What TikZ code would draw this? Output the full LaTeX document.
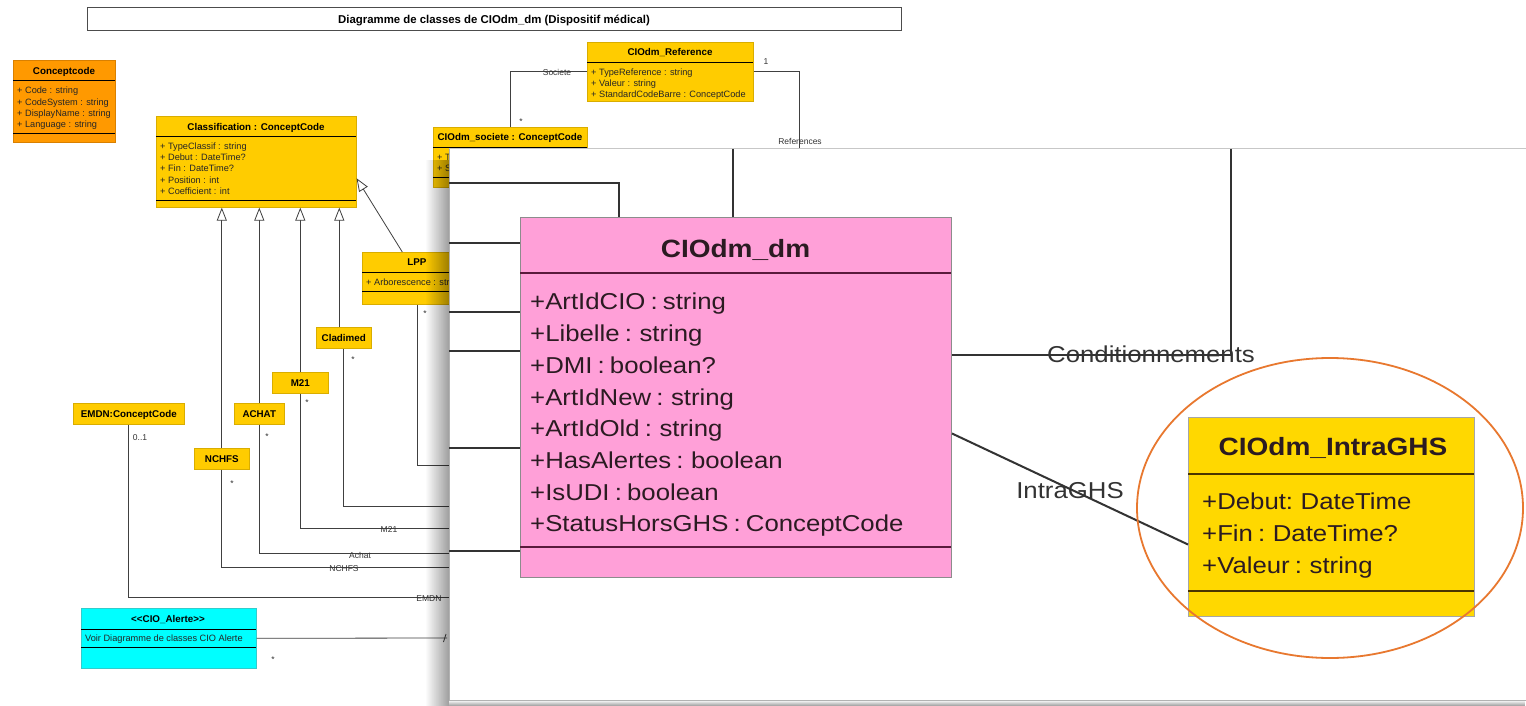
\documentclass[tikz,border=0pt]{standalone}
\usepackage{fontspec}
\setmainfont{Liberation Sans}
\newfontfamily\widefont[FakeStretch=1.12,WordSpace=0.72]{Liberation Sans}
\usetikzlibrary{arrows.meta,fadings,shapes.geometric}
\definecolor{ucy}{HTML}{FFCC00}
\definecolor{ucyb}{HTML}{D9AD00}
\definecolor{uco}{HTML}{FF9900}
\definecolor{ucob}{HTML}{D98000}
\definecolor{ucc}{HTML}{00FFFF}
\definecolor{uccb}{HTML}{33CCCC}
\definecolor{pinkf}{HTML}{FFA0D8}
\definecolor{pinkl}{HTML}{5A1A3C}
\definecolor{goldf}{HTML}{FFD800}
\definecolor{goldl}{HTML}{4A3500}
\definecolor{ringc}{HTML}{E8782F}
\definecolor{txt}{HTML}{2B1B22}
\tikzset{
  cbox/.style={draw=#1, line width=0.6pt, inner sep=0pt, anchor=north west},
  sepl/.style={draw=black, line width=0.7pt},
  attr/.style={font=\fontsize{9.2}{10}\selectfont, inner sep=0pt, anchor=west, text=black!85, text height=6.6pt, text depth=0pt},
  hdr/.style={font=\bfseries\fontsize{9.8}{11}\selectfont, inner sep=0pt, text=black, text height=7pt, text depth=0pt},
  mult/.style={font=\fontsize{8.5}{9}\selectfont, inner sep=0pt, text=black!80, text height=6.1pt, text depth=0pt},
  bgl/.style={draw=black!75, line width=0.8pt},
  gen/.style={bgl, -{Triangle[open, fill=white, length=13pt, width=10pt]}},
  ovl/.style={draw=black!80, line width=2.4pt},
  ovl2/.style={draw=black!80, line width=2pt},
  ovt/.style={font=\widefont\fontsize{23}{26}\selectfont, inner sep=0pt, text=txt, text height=16.5pt, text depth=0pt},
  ovh/.style={font=\widefont\bfseries\fontsize{25}{28}\selectfont, inner sep=0pt, text=txt, text height=18pt, text depth=0pt},
}
\begin{document}
\begin{tikzpicture}[x=1pt,y=-1pt]
\useasboundingbox (0,0) rectangle (1526,706);
\fill[white] (0,0) rectangle (1526,706);

% ---------- background diagram ----------
\node[cbox=black!70, minimum width=814pt, minimum height=23pt] (title) at (87,7) {};
\node[font=\bfseries\fontsize{11.4}{13}\selectfont, inner sep=0pt, text height=8.2pt, text depth=0pt] (titletxt) at (494,19) {Diagramme de classes de CIOdm\_dm (Dispositif médical)};

% Conceptcode
\node[cbox=ucob, fill=uco, minimum width=102pt, minimum height=82pt] (cc) at (13,60) {};
\node[hdr] (cch) at (64,71) {Conceptcode};
\draw[sepl] (13,80) -- (115,80);
\draw[sepl] (13,133) -- (115,133);
\node[attr] (cc1) at (17,90.5) {+ Code : string};
\node[attr] (cc2) at (17,101.8) {+ CodeSystem : string};
\node[attr] (cc3) at (17,113.1) {+ DisplayName : string};
\node[attr] (cc4) at (17,124.4) {+ Language : string};

% Classification
\node[cbox=ucyb, fill=ucy, minimum width=200pt, minimum height=91pt] (cls) at (156,116) {};
\node[hdr] (clsh) at (256,127) {Classification : ConceptCode};
\draw[sepl] (156,136) -- (356,136);
\draw[sepl] (156,200) -- (356,200);
\node[attr] (cl1) at (160,146) {+ TypeClassif : string};
\node[attr] (cl2) at (160,157.3) {+ Debut : DateTime?};
\node[attr] (cl3) at (160,168.6) {+ Fin : DateTime?};
\node[attr] (cl4) at (160,180) {+ Position : int};
\node[attr] (cl5) at (160,191.3) {+ Coefficient : int};

% CIOdm_Reference
\node[cbox=ucyb, fill=ucy, minimum width=166pt, minimum height=59pt] (ref) at (587,42) {};
\node[hdr] (refh) at (670,52) {CIOdm\_Reference};
\draw[sepl] (587,62) -- (753,62);
\node[attr] (rf1) at (591,72) {+ TypeReference : string};
\node[attr] (rf2) at (591,83) {+ Valeur : string};
\node[attr] (rf3) at (591,94) {+ StandardCodeBarre : ConceptCode};

% CIOdm_societe
\node[cbox=ucyb, fill=ucy, minimum width=154pt, minimum height=60pt] (soc) at (433,127) {};
\node[hdr] (soch) at (510,137) {CIOdm\_societe : ConceptCode};
\draw[sepl] (433,147) -- (587,147);
\draw[sepl] (433,177) -- (587,177);
\node[attr] (so1) at (437,157.5) {+ T};
\node[attr] (so2) at (437,168.5) {+ S};

% LPP
\node[cbox=ucyb, fill=ucy, minimum width=110pt, minimum height=52pt] (lpp) at (362,252) {};
\node[hdr] (lpph) at (417,262) {LPP};
\draw[sepl] (362,272) -- (472,272);
\draw[sepl] (362,291) -- (472,291);
\node[attr] (lp1) at (366,282) {+ Arborescence : str};

% small classes
\node[cbox=ucyb, fill=ucy, minimum width=55pt, minimum height=21pt] (clad) at (316,327) {};
\node[hdr] at (clad.center) {Cladimed};
\node[cbox=ucyb, fill=ucy, minimum width=56pt, minimum height=21pt] (m21) at (272,372) {};
\node[hdr] at (m21.center) {M21};
\node[cbox=ucyb, fill=ucy, minimum width=50pt, minimum height=21pt] (achat) at (234,403) {};
\node[hdr] at (achat.center) {ACHAT};
\node[cbox=ucyb, fill=ucy, minimum width=55pt, minimum height=21pt] (nchfs) at (194,448) {};
\node[hdr] at (nchfs.center) {NCHFS};
\node[cbox=ucyb, fill=ucy, minimum width=111pt, minimum height=21pt] (emdn) at (73,403) {};
\node[hdr] at (emdn.center) {EMDN:ConceptCode};

% CIO_Alerte
\node[cbox=uccb, fill=ucc, minimum width=175pt, minimum height=60pt] (alerte) at (81,608) {};
\node[hdr] (alh) at (168,619) {<{}<CIO\_Alerte>{}>};
\draw[sepl] (81,629) -- (256,629);
\draw[sepl] (81,647) -- (256,647);
\node[attr] (al1) at (85,638.5) {Voir Diagramme de classes CIO Alerte};

% generalisations
\draw[gen] (nchfs.north) -- (nchfs.north |- cls.south);
\draw[gen] (achat.north) -- (achat.north |- cls.south);
\draw[gen] (m21.north) -- (m21.north |- cls.south);
\draw[gen] ([xshift=-4.5pt]clad.north) -- ([xshift=-4.5pt]clad.north |- cls.south);
\draw[gen] ([xshift=-15pt]lpp.north) -- ([yshift=-16.5pt]cls.east);

% associations
\coordinate (refend) at (799,149);
\draw[bgl] (ref.west) -| (soc.north);
\draw[bgl] (ref.east) -| (refend);
\coordinate (eL) at (449,465);
\coordinate (eC) at (449,506);
\coordinate (eM) at (449,528);
\coordinate (eA) at (449,553);
\coordinate (eN) at (449,567);
\coordinate (eE) at (449,597);
\coordinate (eAl) at (447,638);
\draw[bgl] (lpp.south) |- (eL);
\draw[bgl] (clad.south) |- (eC);
\draw[bgl] (m21.south) |- (eM);
\draw[bgl] (achat.south) |- (eA);
\draw[bgl] (nchfs.south) |- (eN);
\draw[bgl] (emdn.south) |- (eE);
\draw[bgl] (alerte.east) -- (eAl);
\draw[bgl] (443.5,642) -- (446,634);

% association labels
\node[mult] at (557,72.5) {Societe};
\node[mult] at (521,121) {*};
\node[mult] at (766,61.5) {1};
\node[mult] at (800,141) {References};
\node[mult] at (425,313) {*};
\node[mult] at (353,359) {*};
\node[mult] at (307,402) {*};
\node[mult] at (267,436) {*};
\node[mult] at (232,483) {*};
\node[mult] at (140,437) {0..1};
\node[mult] at (273,659) {*};
\node[mult] at (389,529.5) {M21};
\node[mult] at (360,555) {Achat};
\node[mult] at (344,568.5) {NCHFS};
\node[mult] at (429,598) {EMDN};

% ---------- zoom panel ----------
\fill[black, path fading=west, fill opacity=0.38] (425,160) rectangle (449,706);
\fill[black, path fading=north, fill opacity=0.4] (449,700) rectangle (1526,706);
\fill[white] (449,149) rectangle (1526,700);
\draw[black!22, line width=1pt] (449,149) -- (1526,149);
\draw[black!30, line width=1pt] (449,149) -- (449,700) -- (1526,700);

% CIOdm_dm
\node[cbox=black!45, fill=pinkf, line width=1pt, minimum width=431pt, minimum height=360pt] (dm) at (520,217) {};
\node[ovh] (dmh) at (735.5,248) {CIOdm\_dm};
\draw[pinkl, line width=2.6pt] (520,273) -- (951,273);
\draw[pinkl, line width=2.6pt] (520,547) -- (951,547);
\node[ovt, anchor=west] (d1) at (530,301) {+ArtIdCIO : string};
\node[ovt, anchor=west] (d2) at (530,333) {+Libelle : string};
\node[ovt, anchor=west] (d3) at (530,365) {+DMI : boolean?};
\node[ovt, anchor=west] (d4) at (530,397) {+ArtIdNew : string};
\node[ovt, anchor=west] (d5) at (530,428) {+ArtIdOld : string};
\node[ovt, anchor=west] (d6) at (530,460) {+HasAlertes : boolean};
\node[ovt, anchor=west] (d7) at (530,492) {+IsUDI : boolean};
\node[ovt, anchor=west] (d8) at (530,523) {+StatusHorsGHS : ConceptCode};

% CIOdm_IntraGHS
\node[cbox=black!35, fill=goldf, line width=1pt, minimum width=286pt, minimum height=199pt] (ghs) at (1188,417) {};
\node[ovh] (ghsh) at (1333,446) {CIOdm\_IntraGHS};
\draw[goldl, line width=2.6pt] (1188,474) -- (1474,474);
\draw[goldl, line width=2.6pt] (1188,591) -- (1474,591);
\node[ovt, anchor=west] (g1) at (1202,501) {+Debut: DateTime};
\node[ovt, anchor=west] (g2) at (1202,533) {+Fin : DateTime?};
\node[ovt, anchor=west] (g3) at (1202,565) {+Valeur : string};

% panel connectors
\coordinate (o1) at (449,183);
\coordinate (o2) at (733,149);
\coordinate (o3) at (1231,149);
\coordinate (oL1) at (449,243);
\coordinate (oL2) at (449,312);
\coordinate (oL3) at (449,351);
\coordinate (oL4) at (449,448);
\coordinate (oL5) at (449,551);
\draw[ovl] (o1) -| ([xshift=99pt]dm.north west);
\draw[ovl] (o2) -- (o2 |- dm.north);
\draw[ovl] (oL1) -- (oL1 -| dm.west);
\draw[ovl] (oL2) -- (oL2 -| dm.west);
\draw[ovl] (oL3) -- (oL3 -| dm.west);
\draw[ovl] (oL4) -- (oL4 -| dm.west);
\draw[ovl] (oL5) -- (oL5 -| dm.west);
\draw[ovl2] (o3) |- ([yshift=43pt]dm.east);
\draw[ovl2] ([yshift=-36pt]dm.east) -- ([yshift=-27.5pt]ghs.west);
\node[ovt, text=black!80] (condl) at (1151,354) {Conditionnements};
\node[ovt, text=black!80] (intral) at (1070,490) {IntraGHS};

% highlight ring
\node[ellipse, draw=ringc, line width=1.8pt, minimum width=386pt, minimum height=300pt, inner sep=0pt] (ring) at (1330,508) {};
\end{tikzpicture}
\end{document}
